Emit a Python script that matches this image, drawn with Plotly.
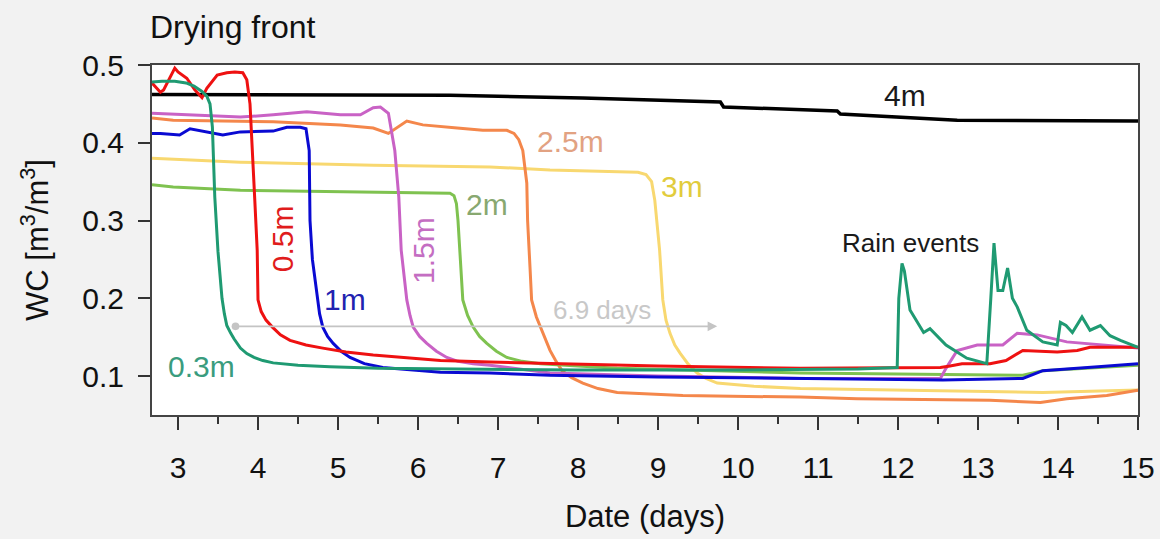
import plotly.graph_objects as go

# ---- data ----
x_4m = [2.675, 6.4, 8.06, 9.78, 9.82, 10.78, 11.24, 11.28, 12.11, 12.74, 15]
y_4m = [0.462, 0.461, 0.4575, 0.4524, 0.446, 0.442, 0.441, 0.437, 0.432, 0.429, 0.428]

x_3m = [2.675, 3.78, 5.44, 6.9, 7.65, 8.75, 8.85, 8.92, 8.96, 9.02, 9.06, 9.1, 9.15, 9.21, 9.28, 9.38, 9.49, 9.6,
        9.74, 10.2, 10.78, 12, 13.81, 15]
y_3m = [0.38, 0.375, 0.371, 0.369, 0.365, 0.362, 0.359, 0.35, 0.326, 0.262, 0.198, 0.172, 0.155, 0.14, 0.129, 0.115,
        0.104, 0.097, 0.091, 0.087, 0.084, 0.082, 0.079, 0.082]

x_25m = [2.675, 2.94, 4.19, 5.03, 5.44, 5.63, 5.86, 6.06, 6.49, 6.81, 7.11, 7.2, 7.26, 7.31, 7.36, 7.37, 7.4, 7.42,
         7.48, 7.55, 7.65, 7.72, 7.8, 7.92, 8.06, 8.25, 8.49, 8.9, 9.31, 10.78, 11.49, 13.15, 13.78, 14.11, 14.61, 15]
y_25m = [0.432, 0.429, 0.427, 0.423, 0.419, 0.412, 0.428, 0.423, 0.419, 0.416, 0.416, 0.412, 0.404, 0.39, 0.348, 0.3, 0.24,
         0.198, 0.176, 0.159, 0.133, 0.12, 0.107, 0.098, 0.091, 0.084, 0.079, 0.077, 0.075, 0.073, 0.071, 0.069, 0.066,
         0.071, 0.075, 0.082]

x_2m = [2.675, 2.94, 3.78, 5.03, 6.28, 6.4, 6.45, 6.48, 6.5, 6.52, 6.56, 6.62, 6.69, 6.77, 6.86, 6.98, 7.11, 7.3,
        7.53, 8.0, 8.49, 10.78, 13.56, 13.81, 15]
y_2m = [0.346, 0.343, 0.339, 0.337, 0.335, 0.335, 0.332, 0.322, 0.3, 0.262, 0.198, 0.178, 0.163, 0.151, 0.142, 0.132,
        0.124, 0.119, 0.116, 0.113, 0.11, 0.104, 0.101, 0.107, 0.114]

x_15m = [2.675, 2.94, 3.78, 4.19, 4.61, 5.03, 5.28, 5.44, 5.53, 5.63, 5.71, 5.76, 5.79, 5.86, 5.9, 5.94, 6.02, 6.11,
         6.23, 6.36, 6.5, 6.69, 6.9, 7.65, 9, 10.78, 12.53, 12.6, 12.74, 12.99, 13.31, 13.49, 13.74, 14.11, 15]
y_15m = [0.438, 0.437, 0.433, 0.436, 0.44, 0.436, 0.436, 0.445, 0.446, 0.438, 0.39, 0.33, 0.262, 0.198, 0.178, 0.163,
         0.151, 0.142, 0.132, 0.124, 0.119, 0.116, 0.114, 0.104, 0.1, 0.097, 0.097, 0.11, 0.133, 0.14, 0.14, 0.155,
         0.153, 0.144, 0.136]

x_1m = [2.675, 2.78, 3.02, 3.15, 3.56, 3.78, 4.19, 4.36, 4.53, 4.6, 4.64, 4.65, 4.68, 4.74, 4.77, 4.81, 4.87, 4.94,
        5.04, 5.15, 5.33, 5.56, 6.28, 6.9, 7.65, 9, 10.8, 12.56, 13.56, 13.81, 14.5, 15]
y_1m = [0.412, 0.412, 0.41, 0.418, 0.41, 0.414, 0.415, 0.42, 0.42, 0.418, 0.39, 0.3, 0.25, 0.198, 0.18, 0.163, 0.151,
        0.142, 0.132, 0.124, 0.116, 0.111, 0.105, 0.104, 0.101, 0.099, 0.097, 0.095, 0.097, 0.107, 0.112, 0.116]

x_05m = [2.675, 2.78, 2.82, 2.96, 3.0, 3.11, 3.21, 3.3, 3.36, 3.42, 3.49, 3.61, 3.71, 3.81, 3.86, 3.9, 3.93, 3.96,
         3.99, 4.0, 4.04, 4.1, 4.18, 4.28, 4.4, 4.6, 4.81, 5.1, 5.44, 6.28, 6.9, 7.65, 9.0, 10.78, 12.53, 12.65, 12.8,
         13.15, 13.35, 13.56, 13.99, 14.24, 14.4, 15]
y_05m = [0.477, 0.465, 0.468, 0.496, 0.491, 0.483, 0.468, 0.458, 0.47, 0.478, 0.487, 0.49, 0.491, 0.49, 0.481, 0.45,
         0.38, 0.326, 0.262, 0.198, 0.183, 0.172, 0.163, 0.153, 0.146, 0.14, 0.136, 0.131, 0.127, 0.12, 0.118, 0.116,
         0.113, 0.11, 0.111, 0.113, 0.116, 0.116, 0.12, 0.133, 0.131, 0.133, 0.137, 0.137]

x_03m = [2.675, 2.8, 2.96, 3.1, 3.2, 3.3, 3.36, 3.4, 3.43, 3.46, 3.5, 3.55, 3.58, 3.61, 3.66, 3.7, 3.78, 3.86, 3.95,
         4.06, 4.19, 4.5, 4.9, 5.5, 6.5, 8, 10, 11.5, 11.99, 12.01, 12.05, 12.08, 12.15, 12.32, 12.4, 12.6, 12.86,
         13.11, 13.16, 13.2, 13.25, 13.31, 13.37, 13.43, 13.49, 13.61, 13.81, 13.99, 14.03, 14.1, 14.18, 14.3, 14.4,
         14.53, 14.65, 14.78, 15]
y_03m = [0.478, 0.479, 0.479, 0.477, 0.473, 0.466, 0.46, 0.45, 0.42, 0.33, 0.26, 0.2, 0.18, 0.165, 0.155, 0.148, 0.136,
         0.129, 0.124, 0.12, 0.117, 0.114, 0.112, 0.11, 0.109, 0.108, 0.108, 0.109, 0.111, 0.2, 0.245, 0.235, 0.185,
         0.156, 0.161, 0.14, 0.123, 0.116, 0.2, 0.271, 0.21, 0.21, 0.239, 0.2, 0.189, 0.159, 0.144, 0.14, 0.169, 0.165,
         0.156, 0.176, 0.159, 0.165, 0.152, 0.146, 0.137]

series = [
    ("4m", x_4m, y_4m, "#000000", 3.5),
    ("3m", x_3m, y_3m, "#f8d870", 3),
    ("2.5m", x_25m, y_25m, "#f4874b", 3),
    ("2m", x_2m, y_2m, "#7fc250", 3),
    ("1.5m", x_15m, y_15m, "#c962c5", 3),
    ("1m", x_1m, y_1m, "#0a0ad2", 3),
    ("0.5m", x_05m, y_05m, "#ee1111", 3),
    ("0.3m", x_03m, y_03m, "#1f9a72", 3),
]

# line labels: text, x, y, color, angle
labels = [
    ("4m", 12.09, 0.461, "#1a1a1a", 0),
    ("3m", 9.3, 0.344, "#e2cc3c", 0),
    ("2.5m", 7.91, 0.402, "#e2a282", 0),
    ("2m", 6.86, 0.321, "#88a870", 0),
    ("1.5m", 6.06, 0.262, "#c46ec2", -90),
    ("1m", 5.09, 0.198, "#2222b0", 0),
    ("0.5m", 4.31, 0.277, "#e01c1c", -90),
    ("0.3m", 3.29, 0.113, "#3a9c7e", 0),
]

FONT = "Liberation Sans, Arial, sans-serif"

fig = go.Figure()
for name, xs, ys, col, w in series:
    fig.add_trace(go.Scatter(x=xs, y=ys, mode="lines", name=name,
                             line=dict(color=col, width=w), showlegend=False))

for txt, lx, ly, col, ang in labels:
    fig.add_annotation(x=lx, y=ly, text=txt, showarrow=False, textangle=ang,
                       font=dict(family=FONT, size=30, color=col))

fig.add_annotation(x=12.15, y=0.271, text="Rain events", showarrow=False,
                   font=dict(family=FONT, size=26, color="#1a1a1a"))

# 6.9 days arrow
fig.add_annotation(x=9.74, y=0.164, ax=3.70, ay=0.164, xref="x", yref="y", axref="x", ayref="y",
                   text="", showarrow=True, arrowhead=2, arrowsize=1.2, arrowwidth=1.6,
                   arrowside="end+start", startarrowhead=6, startarrowsize=1.2,
                   arrowcolor="#c4c4c4")
fig.add_annotation(x=8.3, y=0.185, text="6.9 days", showarrow=False,
                   font=dict(family=FONT, size=26, color="#c8c8c8"))

fig.add_annotation(xref="paper", yref="paper", x=-0.004, y=1.108, xanchor="left", yanchor="middle",
                   text="Drying front", showarrow=False,
                   font=dict(family=FONT, size=32, color="#111111"))

fig.update_layout(
    width=1160, height=539,
    margin=dict(l=152, r=22, t=65, b=124),
    paper_bgcolor="#f2f2f2", plot_bgcolor="#ffffff",
    font=dict(family=FONT, size=30, color="#111111"),
)
fig.update_xaxes(
    range=[2.675, 15], tickvals=list(range(3, 16)), ticks="outside", ticklen=13, tickwidth=2,
    tickcolor="#333333", showline=True, linecolor="#444444", linewidth=2, mirror=True,
    showgrid=False, zeroline=False, ticklabelstandoff=12, automargin=False,
    minor=dict(dtick=0.5, tick0=2.5, ticks="outside", ticklen=7, tickwidth=2, tickcolor="#333333", showgrid=False),
    title=dict(text="Date (days)", font=dict(family=FONT, size=31), standoff=22),
    tickfont=dict(family=FONT, size=30, color="#111111"),
)
fig.update_yaxes(
    range=[0.05, 0.5], tickvals=[0.1, 0.2, 0.3, 0.4, 0.5], tickformat=".1f", ticks="outside", ticklen=12,
    tickwidth=2, tickcolor="#333333", showline=True, linecolor="#444444", linewidth=2, mirror=True,
    showgrid=False, zeroline=False, ticklabelstandoff=8, automargin=False,
    title=dict(text="WC [m<sup>3</sup>/m<sup>3</sup>]", font=dict(family=FONT, size=31), standoff=24),
    tickfont=dict(family=FONT, size=30, color="#111111"),
)

fig.write_html("out.html")
